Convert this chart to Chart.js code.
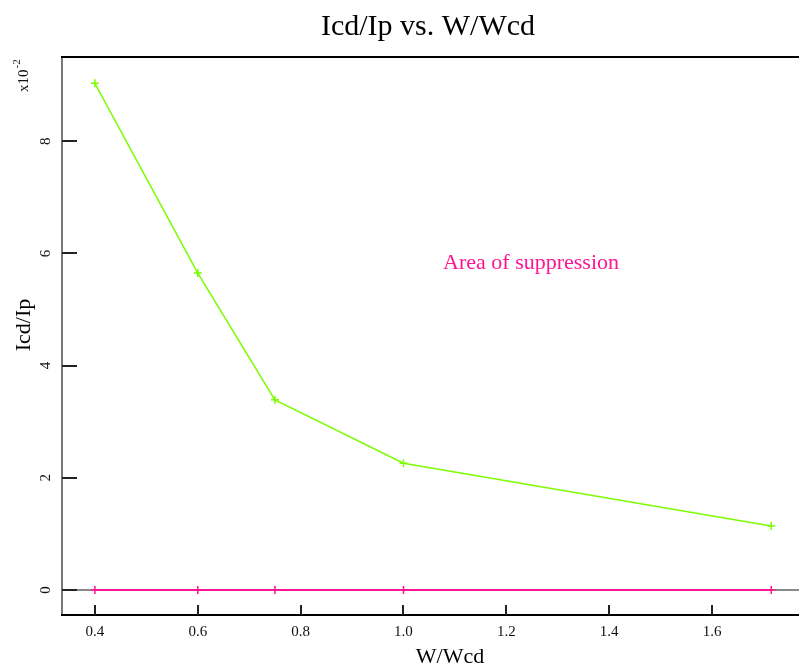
<!DOCTYPE html>
<html>
<head>
<meta charset="utf-8">
<script src="https://cdn.jsdelivr.net/npm/chart.js@4.4.1/dist/chart.umd.min.js"></script>
<style>
  html, body { margin: 0; padding: 0; background: #fff; }
  #wrap { width: 799px; height: 671px; }
</style>
</head>
<body>
<div id="wrap"><canvas id="c" width="799" height="671"></canvas></div>
<script>
// Width ratio W/Wcd sampled along the x axis
const widthRatio = [0.4, 0.6, 0.75, 1.0, 1.715];
// Icd/Ip measured at each width ratio
const currentRatio = [0.0903, 0.0565, 0.0339, 0.0226, 0.0114];
// Suppression boundary (zero level)
const suppressionLevel = [0, 0, 0, 0, 0];
// Tick labels on the axes
const xTickLabels = ['0.4', '0.6', '0.8', '1.0', '1.2', '1.4', '1.6'];
const yTickLabels = ['0', '2', '4', '6', '8'];

const SERIF = '"Liberation Serif", "Times New Roman", serif';
const GREEN = '#7cfc00';
const PINK = '#ff1493';

const decor = {
  id: 'decor',
  beforeDatasetsDraw(chart) {
    const { ctx, chartArea: a, scales: { y } } = chart;
    const y0 = y.getPixelForValue(0);
    ctx.save();
    ctx.strokeStyle = '#8a8a8a';
    ctx.lineWidth = 2;
    ctx.beginPath();
    ctx.moveTo(a.left, y0);
    ctx.lineTo(a.right, y0);
    ctx.stroke();
    ctx.restore();
  },
  afterDraw(chart) {
    const { ctx, chartArea: a, scales: { x, y } } = chart;
    ctx.save();

    // frame: grey left axis, black top and bottom
    ctx.lineWidth = 2;
    ctx.strokeStyle = '#777';
    ctx.beginPath();
    ctx.moveTo(a.left, a.top);
    ctx.lineTo(a.left, a.bottom + 1);
    ctx.stroke();
    ctx.strokeStyle = '#000';
    ctx.beginPath();
    ctx.moveTo(a.left - 1, a.top);
    ctx.lineTo(a.right, a.top);
    ctx.moveTo(a.left - 1, a.bottom);
    ctx.lineTo(a.right, a.bottom);
    ctx.stroke();

    // inward ticks
    ctx.strokeStyle = '#222';
    ctx.lineWidth = 2;
    ctx.beginPath();
    x.ticks.forEach(t => {
      const px = Math.round(x.getPixelForValue(t.value));
      ctx.moveTo(px, a.bottom);
      ctx.lineTo(px, a.bottom - 10);
    });
    y.ticks.forEach(t => {
      const py = Math.round(y.getPixelForValue(t.value));
      ctx.moveTo(a.left, py);
      ctx.lineTo(a.left + 15, py);
    });
    ctx.stroke();

    // rotated y tick labels
    ctx.fillStyle = '#111';
    ctx.font = '15px ' + SERIF;
    ctx.textAlign = 'center';
    ctx.textBaseline = 'middle';
    y.ticks.forEach((t, i) => {
      const py = y.getPixelForValue(t.value);
      ctx.save();
      ctx.translate(46, py);
      ctx.rotate(-Math.PI / 2);
      ctx.fillText(yTickLabels[i] ?? String(Math.round(t.value * 100)), 0, 0);
      ctx.restore();
    });

    // scale multiplier x10^-2
    ctx.save();
    ctx.translate(28, 92);
    ctx.rotate(-Math.PI / 2);
    ctx.textAlign = 'left';
    ctx.textBaseline = 'alphabetic';
    ctx.font = '15px ' + SERIF;
    ctx.fillText('x10', 0, 0);
    const w = ctx.measureText('x10').width;
    ctx.font = '11px ' + SERIF;
    ctx.fillText('-2', w + 1, -8);
    ctx.restore();

    // chart title
    ctx.fillStyle = '#000';
    ctx.font = '30px ' + SERIF;
    ctx.textAlign = 'center';
    ctx.textBaseline = 'alphabetic';
    ctx.fillText('Icd/Ip vs. W/Wcd', 428, 35);

    // axis titles
    ctx.font = '22px ' + SERIF;
    ctx.fillText('W/Wcd', 450, 663);
    ctx.save();
    ctx.translate(30, 325);
    ctx.rotate(-Math.PI / 2);
    ctx.fillText('Icd/Ip', 0, 0);
    ctx.restore();

    // region label
    ctx.fillStyle = PINK;
    ctx.font = '22px ' + SERIF;
    ctx.fillText('Area of suppression', x.getPixelForValue(1.248), y.getPixelForValue(0.0572));

    ctx.restore();
  }
};

new Chart(document.getElementById('c'), {
  type: 'line',
  data: {
    datasets: [
      {
        label: 'Icd/Ip',
        data: widthRatio.map((v, i) => ({ x: v, y: currentRatio[i] })),
        borderColor: GREEN,
        backgroundColor: GREEN,
        borderWidth: 1.5,
        pointStyle: 'cross',
        pointRadius: 4,
        pointBorderWidth: 1.5,
        tension: 0,
        fill: false
      },
      {
        label: 'suppression',
        data: widthRatio.map((v, i) => ({ x: v, y: suppressionLevel[i] })),
        borderColor: PINK,
        backgroundColor: PINK,
        borderWidth: 2,
        pointStyle: 'cross',
        pointRadius: 4,
        pointBorderWidth: 1.5,
        tension: 0,
        fill: false
      }
    ]
  },
  options: {
    responsive: false,
    animation: false,
    layout: { autoPadding: false, padding: { top: 57, left: 0, right: 0, bottom: 0 } },
    plugins: {
      legend: { display: false },
      title: { display: false },
      tooltip: { enabled: false }
    },
    scales: {
      x: {
        type: 'linear',
        min: 0.336,
        max: 1.769,
        grid: { display: false, drawTicks: false },
        border: { display: false },
        ticks: {
          stepSize: 0.2,
          includeBounds: false,
          padding: 8,
          color: '#111',
          font: { family: SERIF, size: 15 },
          maxRotation: 0,
          callback: (v) => {
            const idx = Math.round((v - 0.4) / 0.2);
            return xTickLabels[idx] ?? v.toFixed(1);
          }
        },
        afterFit: (s) => { s.height = 56; }
      },
      y: {
        type: 'linear',
        min: -0.00445,
        max: 0.095,
        grid: { display: false, drawTicks: false },
        border: { display: false },
        ticks: { stepSize: 0.02, includeBounds: false, display: false },
        afterFit: (s) => { s.width = 62; }
      }
    }
  },
  plugins: [decor]
});
</script>
</body>
</html>
